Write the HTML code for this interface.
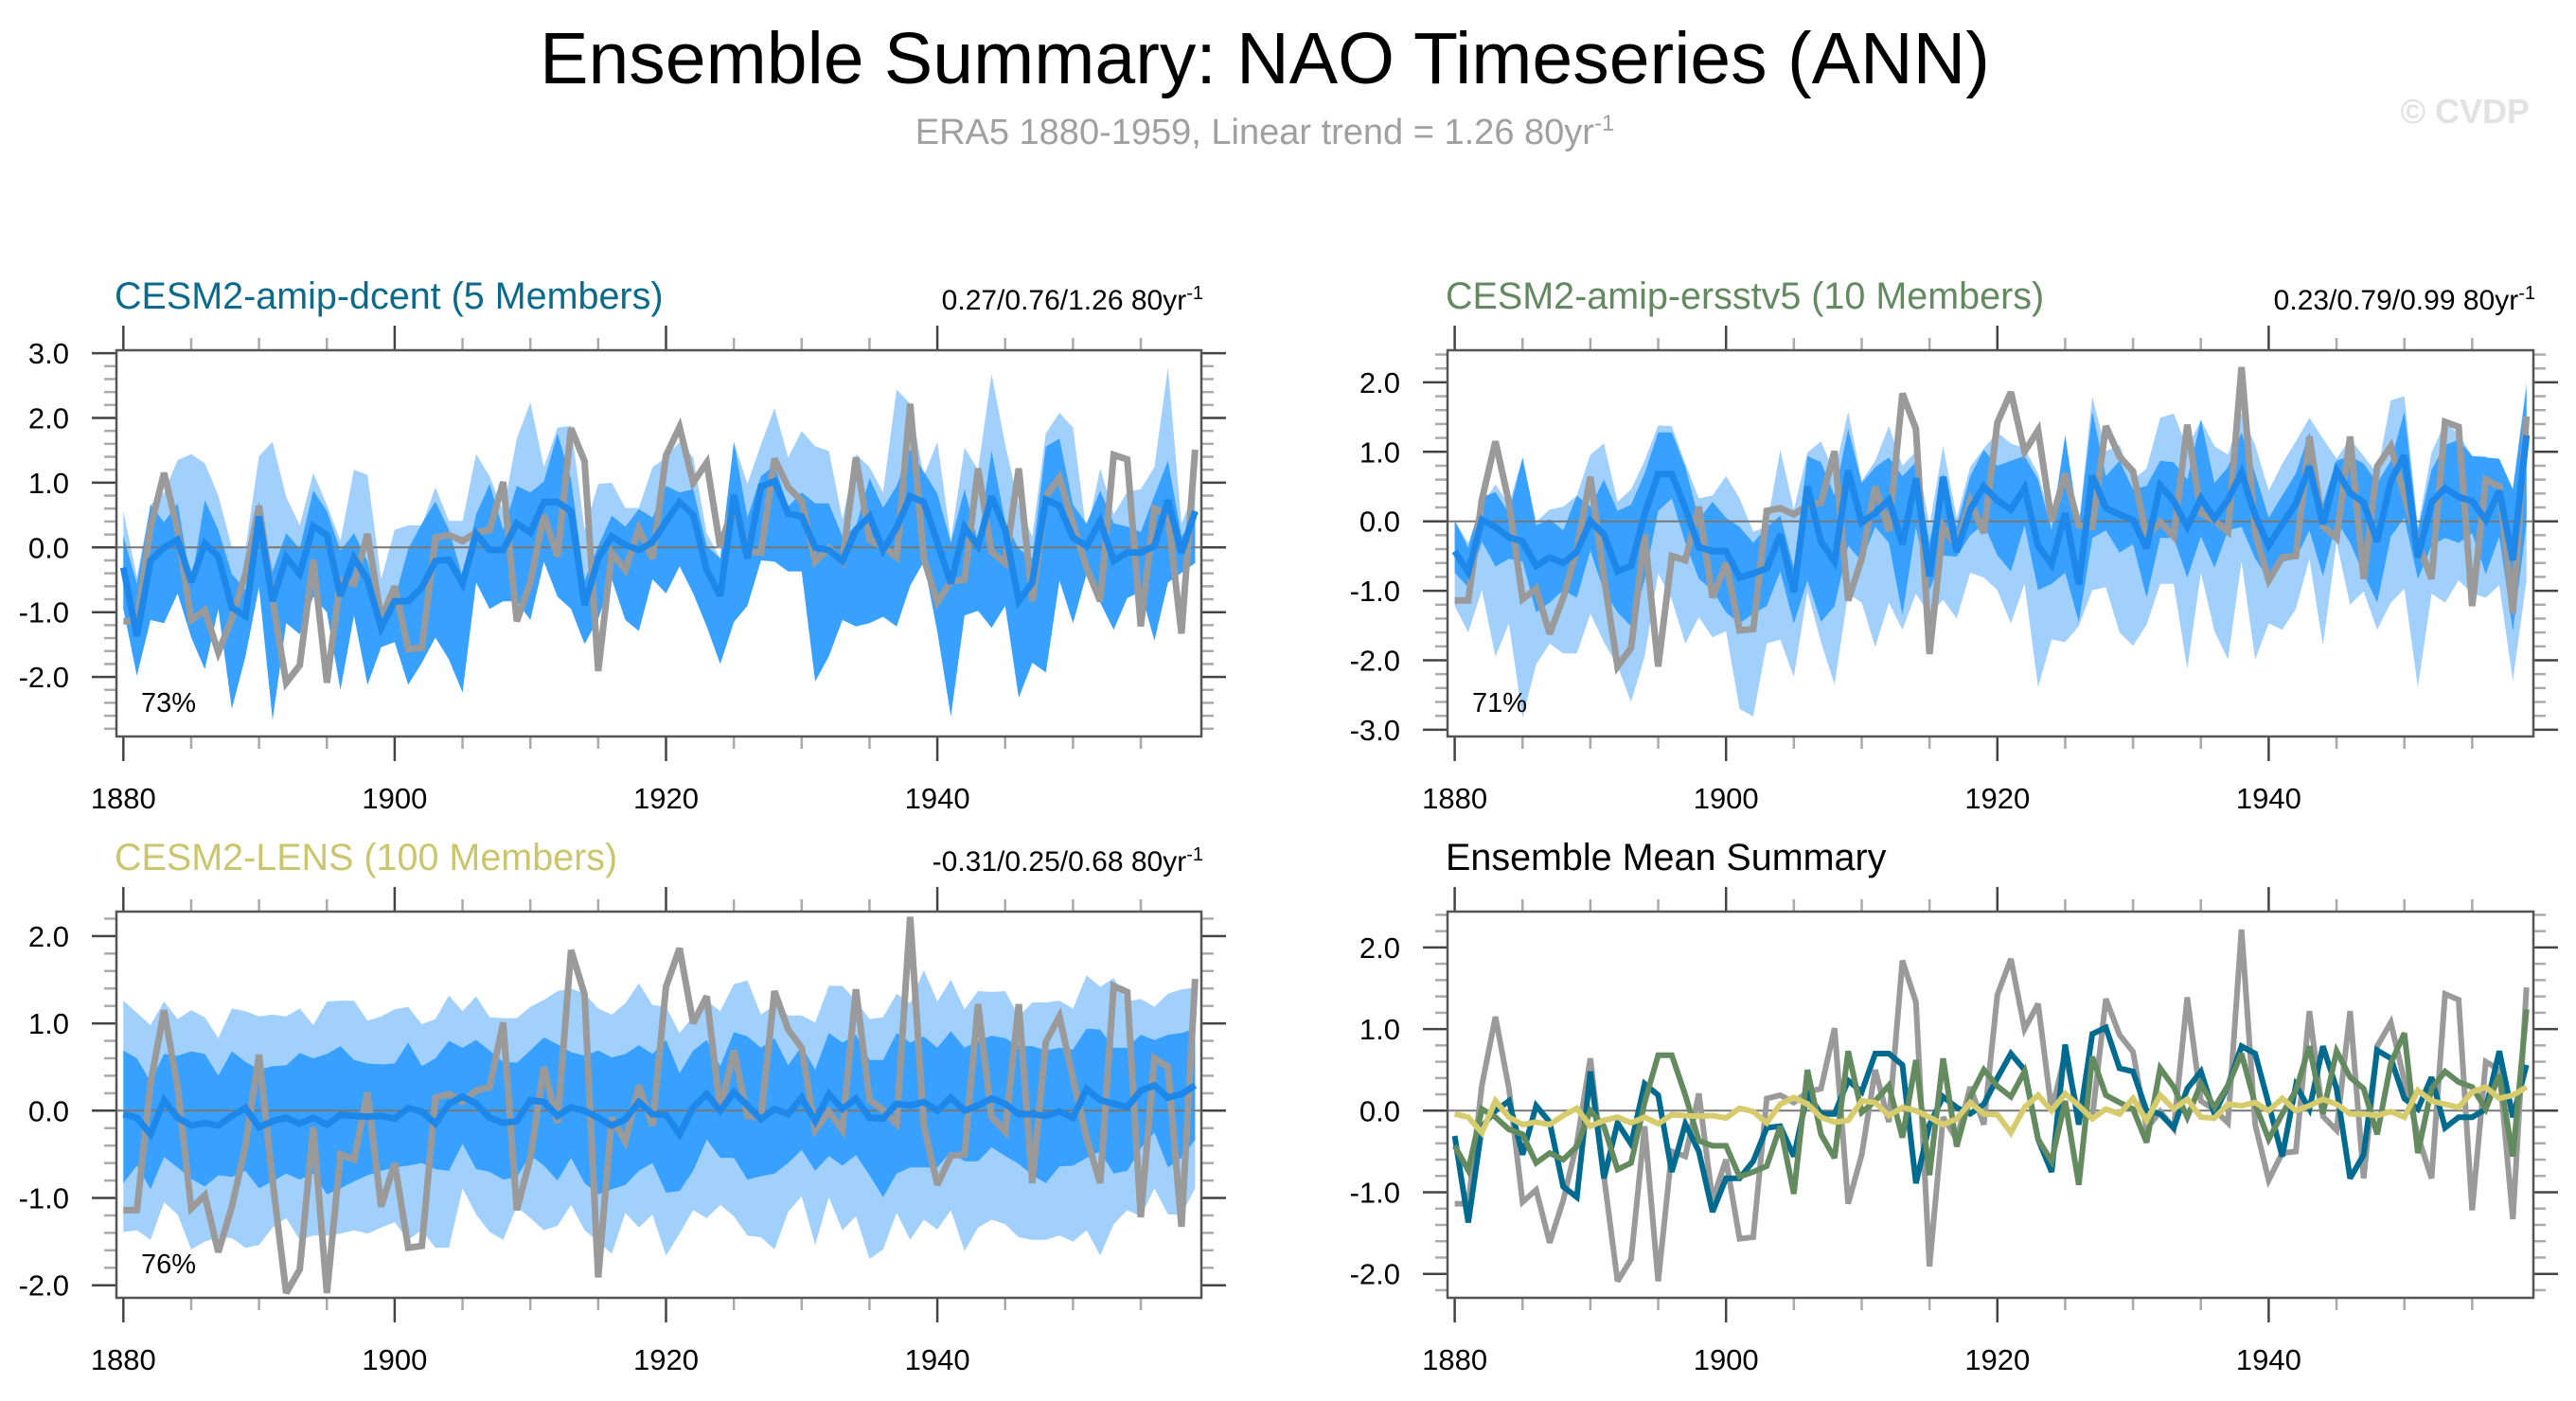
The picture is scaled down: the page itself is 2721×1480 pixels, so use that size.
<!DOCTYPE html>
<html><head><meta charset="utf-8"><style>
html,body{margin:0;padding:0;background:#fff;}
svg{display:block;font-family:"Liberation Sans",sans-serif;}
</style></head><body>
<svg id="fig" width="2721" height="1480" viewBox="0 0 2721 1480" xmlns="http://www.w3.org/2000/svg">
<rect width="2721" height="1480" fill="#fff"/>
<text x="1336" y="88" font-size="77" text-anchor="middle" fill="#000">Ensemble Summary: NAO Timeseries (ANN)</text>
<text x="1336" y="152" font-size="38" text-anchor="middle" fill="#a0a0a0">ERA5 1880-1959, Linear trend = 1.26 80yr<tspan dy="-14" font-size="24">-1</tspan></text>
<text x="2672" y="130" font-size="36" font-weight="bold" text-anchor="end" fill="#e2e2e2">© CVDP</text>
<g id="panels"></g>
</svg>
<script>
// ---- data (years 1880-1959) ----
const years = Array.from({length:80},(_,i)=>1880+i);
const xTickYears = [1880,1900,1920,1940];
const obsERA5 = [-1.14,-1.14,0.31,1.15,0.27,-1.12,-0.97,-1.62,-1.1,-0.4,0.64,-0.8,-2.09,-1.82,-0.19,-2.09,-0.5,-0.56,0.21,-1.1,-0.6,-1.57,-1.55,0.15,0.19,0.1,0.23,0.27,1.01,-1.14,-0.54,0.5,-0.14,1.84,1.33,-1.91,-0.08,-0.35,0.29,-0.17,1.42,1.86,1.0,1.31,0.0,0.69,-0.06,-0.08,1.37,0.93,0.72,-0.22,-0.01,-0.22,1.39,0.12,0.01,-0.15,2.22,-0.17,-0.85,-0.52,-0.5,1.22,-0.07,-0.24,1.22,-0.83,0.79,1.08,0.37,-0.31,-0.83,1.43,1.36,-1.22,0.6,0.5,-1.33,1.51];
const meanDcent = [-0.31,-1.37,-0.2,0.0,0.12,-0.54,0.06,-0.14,-0.93,-1.06,0.48,-0.83,-0.15,-0.41,0.33,0.19,-0.75,-0.16,-0.5,-1.24,-0.83,-0.83,-0.62,-0.21,-0.19,-0.56,0.21,-0.04,-0.04,0.37,0.23,0.7,0.7,0.56,-0.89,-0.17,0.17,0.04,-0.04,0.08,0.4,0.7,0.5,-0.35,-0.75,0.81,-0.17,0.94,1.02,0.52,0.48,0.0,-0.04,-0.21,0.27,0.48,-0.04,0.31,0.79,0.7,0.08,-0.56,0.31,0.02,0.79,0.27,-0.83,-0.54,0.74,0.64,0.15,0.02,0.41,-0.21,-0.08,-0.08,0.02,0.73,-0.08,0.56];
const meanErsst = [-0.43,-0.73,0.02,-0.08,-0.23,-0.29,-0.64,-0.52,-0.6,-0.44,0.0,-0.19,-0.72,-0.64,0.1,0.68,0.68,0.19,-0.37,-0.43,-0.43,-0.81,-0.75,-0.68,-0.19,-1.02,0.5,-0.29,-0.58,0.73,-0.02,0.12,0.31,-0.33,0.62,-0.79,0.64,-0.44,0.17,0.5,0.3,0.17,0.48,-0.35,-0.62,0.12,-0.91,0.66,0.19,0.1,0.02,-0.39,0.52,0.29,-0.08,0.33,0.04,0.31,0.7,0.08,-0.35,-0.04,0.25,0.79,-0.04,0.73,0.41,0.27,-0.29,0.58,0.95,-0.52,0.27,0.48,0.35,0.29,0.02,0.44,-0.56,1.24];
const meanLens = [-0.04,-0.08,-0.27,0.12,-0.08,-0.17,-0.14,-0.17,-0.06,0.03,-0.19,-0.12,-0.08,-0.15,-0.08,-0.16,-0.05,-0.06,-0.07,-0.06,-0.09,0.03,-0.01,-0.15,0.08,0.16,0.08,-0.08,-0.14,-0.12,0.12,0.1,-0.06,0.04,0.0,-0.08,-0.17,-0.1,0.1,-0.04,-0.05,-0.27,0.04,0.19,0.0,0.21,0.06,-0.1,0.02,-0.04,0.15,-0.12,0.19,0.02,0.14,-0.08,-0.09,0.08,0.06,0.1,0.0,0.15,0.0,0.06,0.14,0.08,-0.04,-0.04,-0.06,-0.01,-0.08,0.25,0.12,0.08,0.04,0.23,0.29,0.15,0.19,0.29];
// panel 1 spread
const dcentOuterHi = [0.56,-0.45,0.66,0.85,1.35,1.44,1.3,0.8,0.0,-0.02,1.41,1.63,0.78,0.34,1.15,0.66,0.1,1.2,1.12,-0.49,0.27,0.34,0.34,0.93,0.41,0.41,1.44,1.1,0.56,1.68,2.24,1.24,1.85,1.88,0.27,0.98,1.0,0.61,0.61,1.24,1.39,1.63,1.39,0.22,-0.17,1.63,0.98,1.59,2.15,1.39,1.8,1.56,1.49,0.44,1.44,1.24,0.85,2.44,2.22,1.1,1.63,0.12,1.54,1.2,2.68,1.59,0.66,0.17,1.76,2.08,1.85,0.22,1.22,0.51,0.86,0.9,1.24,2.78,0.37,0.9];
const dcentInnerHi = [0.17,-0.56,0.66,0.39,0.68,-0.56,0.73,0.27,-0.41,-0.66,0.71,-0.37,0.22,-0.02,0.88,0.56,-0.05,0.22,-0.22,-1.1,-0.8,-0.02,0.37,0.71,0.27,-0.46,0.51,0.98,0.27,0.95,0.85,1.02,1.76,1.05,-0.51,0.02,0.49,0.32,0.59,0.46,0.95,0.85,0.9,0.02,-0.17,1.63,0.46,1.1,1.27,0.63,0.85,0.68,0.68,0.17,0.32,1.07,0.61,0.95,1.51,1.17,0.83,0.07,0.9,0.07,1.49,0.39,-0.02,-0.17,1.56,1.68,0.66,0.37,0.88,0.37,0.32,0.24,0.8,1.34,0.17,0.46];
const dcentInnerLo = [-0.95,-1.98,-1.12,-1.17,-0.71,-1.39,-1.88,-0.95,-2.49,-1.68,-0.61,-2.66,-1.17,-1.34,-0.76,-1.0,-2.2,-1.05,-2.12,-1.54,-1.46,-2.12,-1.78,-1.39,-1.73,-2.24,-0.54,-0.95,-0.83,-0.83,-1.12,-0.22,-0.76,-0.95,-1.49,-1.1,-0.49,-1.12,-1.29,-0.49,-0.71,-0.29,-0.71,-1.22,-1.8,-1.15,-0.9,-0.2,-0.22,-0.37,-0.37,-2.07,-1.68,-1.12,-1.22,-1.17,-1.07,-1.22,-0.59,-0.22,-1.3,-2.61,-1.05,-0.98,-1.24,-0.9,-2.32,-1.78,-1.93,-0.51,-1.17,-0.41,-0.85,-1.27,-0.78,-0.68,-1.44,-0.54,-0.39,-0.24];
const dcentOuterLo = [-0.95,-1.98,-1.12,-1.17,-0.71,-1.39,-1.88,-0.95,-2.49,-1.68,-0.61,-2.66,-1.17,-1.34,-0.76,-1.0,-2.2,-1.05,-2.12,-1.54,-1.46,-2.12,-1.78,-1.39,-1.73,-2.24,-0.54,-0.95,-0.83,-0.83,-1.12,-0.22,-0.76,-0.95,-1.49,-1.1,-0.49,-1.12,-1.29,-0.49,-0.71,-0.29,-0.71,-1.22,-1.8,-1.15,-0.9,-0.2,-0.22,-0.37,-0.37,-2.07,-1.68,-1.12,-1.22,-1.17,-1.07,-1.22,-0.59,-0.22,-1.3,-2.61,-1.05,-0.98,-1.24,-0.9,-2.32,-1.78,-1.93,-0.51,-1.17,-0.41,-0.85,-1.27,-0.78,-0.68,-1.44,-0.54,-0.39,-0.24];
// panel 2 spread
const ersstOuterHi = [0.01,-0.31,0.24,0.53,0.24,0.92,-0.01,0.17,0.21,0.37,0.96,1.12,0.28,0.46,0.87,1.38,1.37,0.83,0.33,0.37,0.65,0.33,-0.15,-0.08,1.03,0.17,0.99,1.15,0.69,1.58,0.58,0.87,1.37,0.8,1.01,-0.06,1.08,0.05,0.78,1.05,1.28,1.12,1.05,0.69,-0.04,1.24,-0.06,1.8,1.01,1.1,0.6,0.76,1.49,1.55,1.05,1.46,1.08,0.96,1.55,1.1,0.44,0.83,1.15,1.49,1.19,0.9,1.19,0.94,0.69,1.74,1.8,-0.08,0.99,1.42,1.26,0.94,0.94,0.69,0.46,2.01];
const ersstInnerHi = [0.01,-0.38,0.35,0.42,0.12,0.92,-0.06,0.03,-0.13,0.37,0.21,0.6,0.15,0.24,0.69,1.28,1.28,0.78,0.03,0.28,0.05,-0.08,-0.31,-0.08,0.08,-0.67,0.94,0.85,0.37,1.33,0.55,0.78,0.92,0.65,0.85,-0.31,0.69,-0.08,0.65,1.03,0.8,0.87,0.94,0.6,-0.13,1.24,-0.08,1.58,0.65,0.87,0.46,0.51,0.87,0.85,0.6,1.46,0.55,0.78,1.28,0.69,0.05,0.37,0.69,1.28,0.26,0.87,0.94,0.83,0.55,0.87,1.58,-0.13,0.74,1.1,1.17,0.94,0.92,0.9,0.46,1.92];
const ersstInnerLo = [-0.74,-0.95,-0.29,-0.65,-0.54,-0.58,-1.31,-1.17,-0.99,-1.1,-0.42,-1.01,-1.31,-1.51,-0.85,0.15,0.33,-0.31,-0.83,-0.99,-1.31,-1.47,-1.33,-1.22,-0.72,-1.47,-0.85,-1.45,-1.22,-0.35,-0.58,-0.08,-0.31,-1.35,-0.08,-0.99,-0.49,-0.51,-0.2,-0.04,-0.49,-0.72,-0.06,-0.99,-0.9,-0.74,-1.45,-0.24,-0.13,-0.45,-0.33,-1.1,-0.24,-0.24,-0.81,-0.22,-0.67,-0.13,-0.08,-0.54,-0.83,-0.58,-0.54,-0.13,-0.79,0.01,-0.31,-0.76,-1.17,-0.22,0.05,-0.83,-0.35,-0.24,-0.31,-0.17,-0.76,-0.22,-1.58,-0.04];
const ersstOuterLo = [-1.22,-1.6,-0.99,-1.95,-1.47,-2.83,-2.06,-1.76,-1.9,-1.9,-1.33,-1.74,-2.08,-2.6,-1.95,-0.75,-1.13,-1.76,-1.38,-1.67,-1.58,-2.7,-2.81,-1.76,-1.7,-2.24,-1.01,-1.74,-2.35,-1.04,-1.17,-1.81,-1.17,-1.56,-1.04,-1.35,-1.13,-1.4,-0.74,-0.81,-0.99,-1.47,-0.9,-2.39,-1.7,-1.74,-1.51,-0.99,-0.95,-1.6,-1.79,-1.49,-0.9,-0.9,-2.13,-0.74,-1.58,-1.99,-0.58,-1.99,-1.47,-1.56,-1.26,-0.54,-1.79,-0.3,-1.2,-1.01,-1.56,-1.17,-0.97,-2.39,-1.04,-1.17,-0.85,-1.04,-1.1,-0.92,-2.3,-0.85];
// panel 3 spread
const lensOuterHi = [1.26,1.12,0.98,1.25,1.05,1.15,1.07,0.83,1.17,1.14,1.08,1.1,1.08,1.17,0.98,1.25,1.26,1.26,1.03,1.08,1.16,1.19,0.99,1.05,1.32,1.14,1.31,1.07,1.06,1.06,1.19,1.27,1.37,1.4,1.34,1.17,1.1,1.23,1.46,1.21,1.19,0.89,1.08,1.26,1.14,1.45,1.49,1.1,1.21,1.09,1.09,1.01,1.43,1.43,1.26,1.05,1.07,1.34,1.23,1.61,1.25,1.5,1.16,1.37,1.36,1.37,1.08,1.24,1.24,1.26,1.17,1.55,1.42,1.52,1.25,1.28,1.19,1.34,1.39,1.41];
const lensInnerHi = [0.69,0.6,0.33,0.65,0.63,0.68,0.65,0.4,0.68,0.56,0.47,0.51,0.52,0.66,0.6,0.65,0.74,0.58,0.54,0.53,0.54,0.78,0.51,0.6,0.8,0.72,0.81,0.69,0.56,0.55,0.69,0.84,0.76,0.67,0.63,0.69,0.61,0.65,0.75,0.65,0.81,0.43,0.69,0.81,0.51,0.9,0.85,0.72,0.83,0.52,0.74,0.47,0.89,0.78,0.87,0.58,0.58,0.89,0.78,0.85,0.72,0.91,0.72,0.8,0.86,0.83,0.74,0.74,0.69,0.72,0.7,0.94,0.93,0.72,0.72,0.87,0.81,0.87,0.89,0.94];
const lensInnerLo = [-0.83,-0.63,-0.9,-0.53,-0.65,-0.78,-0.87,-0.74,-0.76,-0.69,-0.89,-0.81,-0.72,-0.79,-0.72,-0.96,-0.89,-0.81,-0.74,-0.69,-0.65,-0.63,-0.6,-0.67,-0.69,-0.38,-0.67,-0.7,-0.79,-0.76,-0.51,-0.63,-0.8,-0.54,-0.83,-0.96,-0.9,-0.85,-0.69,-0.6,-0.94,-0.92,-0.69,-0.33,-0.54,-0.54,-0.79,-0.75,-0.72,-0.6,-0.45,-0.69,-0.52,-0.63,-0.51,-0.74,-0.99,-0.72,-0.65,-0.65,-0.65,-0.47,-0.58,-0.58,-0.42,-0.52,-0.61,-0.74,-0.83,-0.64,-0.63,-0.54,-0.47,-0.72,-0.69,-0.43,-0.25,-0.65,-0.54,-0.33];
const lensOuterLo = [-1.39,-1.37,-1.48,-1.05,-1.19,-1.59,-1.5,-1.45,-1.46,-1.57,-1.54,-1.34,-1.23,-1.48,-1.43,-1.43,-1.41,-1.37,-1.41,-1.34,-1.28,-1.48,-1.37,-1.57,-1.57,-0.89,-1.19,-1.39,-1.48,-1.1,-1.23,-1.37,-1.32,-1.08,-1.37,-1.5,-1.64,-1.17,-1.34,-1.19,-1.66,-1.41,-1.14,-1.23,-1.08,-1.21,-1.43,-1.45,-1.59,-1.16,-0.98,-1.54,-0.99,-1.37,-1.21,-1.7,-1.59,-1.17,-1.48,-1.25,-1.36,-1.14,-1.61,-1.34,-1.25,-1.3,-1.45,-1.48,-1.48,-1.43,-1.5,-1.37,-1.66,-1.3,-1.14,-1.21,-0.89,-1.19,-1.19,-0.89];
const panelTitles = ["CESM2-amip-dcent (5 Members)","CESM2-amip-ersstv5 (10 Members)","CESM2-LENS (100 Members)","Ensemble Mean Summary"];
const panelStats = ["0.27/0.76/1.26 80yr","0.23/0.79/0.99 80yr","-0.31/0.25/0.68 80yr",""];
const panelPcts = ["73%","71%","76%",""];
const yTicks1 = [3,2,1,0,-1,-2];
const yTicks2 = [2,1,0,-1,-2,-3];
const yTicks3 = [2,1,0,-1,-2];
const yTicks4 = [2,1,0,-1,-2];

// ---- layout ----
const NS="http://www.w3.org/2000/svg";
const root=document.getElementById('panels');
function mk(tag,attrs,parent){const e=document.createElementNS(NS,tag);for(const k in attrs)e.setAttribute(k,attrs[k]);(parent||root).appendChild(e);return e;}
const layouts=[
 {L:123,T:370,R:1269,B:778,x0:130.3,zero:578.3,ppu:68.4,vmin:-2.92,vmax:3.04,ticks:yTicks1,title:'#0b6a8c'},
 {L:1529,T:370,R:2676,B:778,x0:1536.6,zero:550.7,ppu:73.4,vmin:-3.1,vmax:2.46,ticks:yTicks2,title:'#62895f'},
 {L:123,T:963,R:1269,B:1371,x0:130.3,zero:1173.3,ppu:92.2,vmin:-2.14,vmax:2.28,ticks:yTicks3,title:'#cbc56d'},
 {L:1529,T:963,R:2676,B:1371,x0:1536.6,zero:1173.3,ppu:86.2,vmin:-2.29,vmax:2.44,ticks:yTicks4,title:'#000'}
];
const YR=14.33;
function drawPanel(p,k){
 const g=mk('g',{});
 
 
 const X=yr=>p.x0+(yr-1880)*YR, Y=v=>p.zero-v*p.ppu;
 const cid='clip'+k;
 const cp=mk('clipPath',{id:cid},g);mk('rect',{x:p.L,y:p.T,width:p.R-p.L,height:p.B-p.T},cp);
 const plot=mk('g',{'clip-path':'url(#'+cid+')'},g);
 p.X=X;p.Y=Y;p.plot=plot;p.g=g;
 const t=mk('text',{x:p.L-2,y:p.T-44,'font-size':39.5,fill:p.title},g);t.textContent=panelTitles[k];
 
 
 if(panelStats[k]){const s=mk('text',{x:p.R+2,y:p.T-43,'font-size':30,'text-anchor':'end',fill:'#000'},g);
  s.textContent=panelStats[k];const sp=mk('tspan',{dy:-11,'font-size':20},s);sp.textContent='-1';
  
  }
 const tk=mk('g',{},g);
 
 
 for(let yr=1880;yr<=1960;yr+=5){const x=X(yr);if(x>p.R+1)continue;const maj=(yr%20===0);const len=maj?26:13;const c=maj?'#444':'#aaa';
  mk('line',{x1:x,y1:p.B,x2:x,y2:p.B+len,stroke:c,'stroke-width':2.5},tk);
  mk('line',{x1:x,y1:p.T,x2:x,y2:p.T-len,stroke:c,'stroke-width':2.5},tk);}
 for(let m=Math.ceil(p.vmin*5);m<=Math.floor(p.vmax*5);m++){const v=m/5;const y=Y(v);const maj=(m%5===0);const len=maj?26:13;const c=maj?'#444':'#aaa';
  mk('line',{x1:p.L,y1:y,x2:p.L-len,y2:y,stroke:c,'stroke-width':2.5},tk);
  mk('line',{x1:p.R,y1:y,x2:p.R+len,y2:y,stroke:c,'stroke-width':2.5},tk);}
 p.ticks.forEach(v=>{const l=mk('text',{x:p.L-50,y:Y(v)+11,'font-size':31,'text-anchor':'end',fill:'#000'},g);l.textContent=v.toFixed(1);
  
  });
 xTickYears.forEach(yr=>{const l=mk('text',{x:X(yr),y:p.B+76,'font-size':31,'text-anchor':'middle',fill:'#000'},g);l.textContent=yr;
  
  });
}
function band(p,hi,lo,color,name){
 let d='';hi.forEach((v,i)=>{d+=(i?'L':'M')+p.X(years[i]).toFixed(1)+','+p.Y(v).toFixed(1);});
 for(let i=lo.length-1;i>=0;i--)d+='L'+p.X(years[i]).toFixed(1)+','+p.Y(lo[i]).toFixed(1);
 const e=mk('path',{d:d+'Z',fill:color,stroke:'none'},p.plot);
 
 
}
function line(p,vals,color,w,name){
 const pts=vals.map((v,i)=>p.X(years[i]).toFixed(1)+','+p.Y(v).toFixed(1)).join(' ');
 const e=mk('polyline',{points:pts,fill:'none',stroke:color,'stroke-width':w,'stroke-linejoin':'miter','stroke-miterlimit':3},p.plot);
 
 
}
function zero(p){mk('line',{x1:p.L,y1:p.Y(0),x2:p.R,y2:p.Y(0),stroke:'#777','stroke-width':2},p.plot);}
function frame(p,k){const r=mk('rect',{x:p.L,y:p.T,width:p.R-p.L,height:p.B-p.T,fill:'none',stroke:'#555','stroke-width':2.5},p.g);
 
 }
function pct(p,k){const t=mk('text',{x:p.L+26,y:p.B-26,'font-size':29,fill:'#000'},p.g);t.textContent=panelPcts[k];
 
 }

const LIGHT='#a2d0fd',DARK='#38a0ff',MEAN='#1e88ea',OBS='#9a9a9a';
layouts.forEach((p,k)=>drawPanel(p,k));
const spreads=[[dcentOuterHi,dcentOuterLo,dcentInnerHi,dcentInnerLo,meanDcent],[ersstOuterHi,ersstOuterLo,ersstInnerHi,ersstInnerLo,meanErsst],[lensOuterHi,lensOuterLo,lensInnerHi,lensInnerLo,meanLens]];
spreads.forEach((s,k)=>{const p=layouts[k];
 band(p,s[0],s[1],LIGHT,'outer-spread-band');
 band(p,s[2],s[3],DARK,'inner-spread-band');
 zero(p);
 line(p,obsERA5,OBS,7,'era5-observed-line');
 line(p,s[4],MEAN,7,'ensemble-mean-line');
 frame(p,k);pct(p,k);});
const p4=layouts[3];
zero(p4);
line(p4,obsERA5,OBS,6,'era5-observed-line');
line(p4,meanDcent,'#006b8f',6,'dcent-mean-line');
line(p4,meanErsst,'#648a5f',6,'ersstv5-mean-line');
line(p4,meanLens,'#d6cc6e',6,'lens-mean-line');
frame(p4,3);
</script>
</body></html>
